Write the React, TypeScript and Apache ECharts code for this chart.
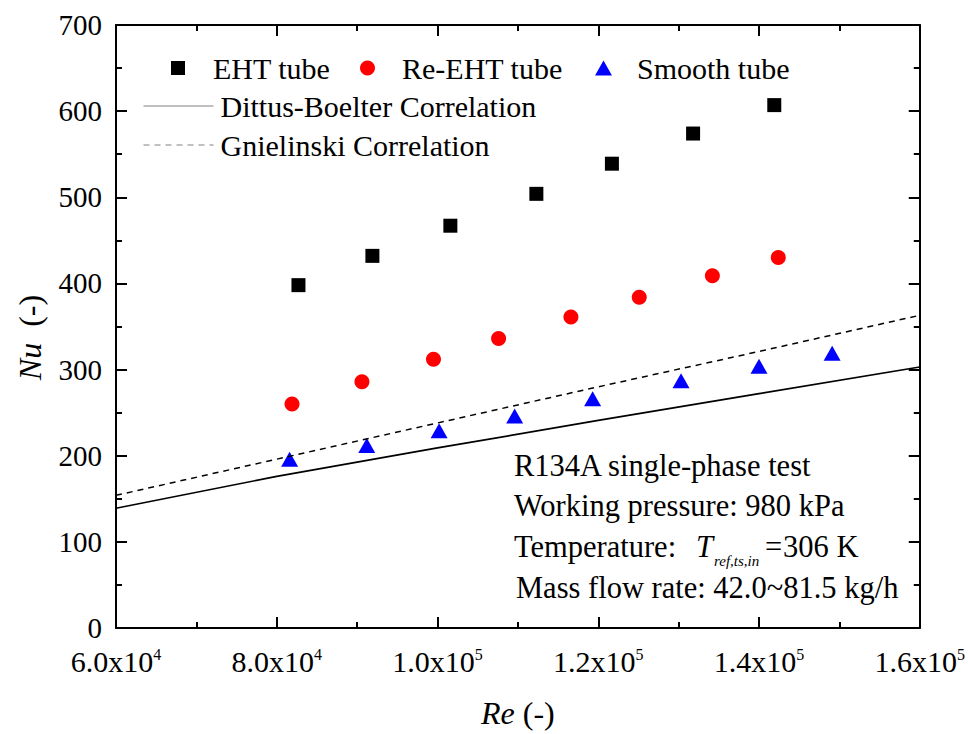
import React, { useEffect, useRef } from "react";
import * as echarts from "echarts";

// Measured Nusselt numbers against Reynolds number
const ehtRe = [82700, 91900, 101600, 112300, 121700, 131800, 141900];
const ehtNu = [398, 432, 467, 504, 539, 574, 607];

const reEhtRe = [81900, 90600, 99500, 107600, 116600, 125100, 134200, 142400];
const reEhtNu = [260, 286, 312, 336, 361, 384, 409, 430];

const smoothRe = [81600, 91200, 100200, 109600, 119300, 130300, 140000, 149100];
const smoothNu = [196, 212, 229, 246, 266, 287, 304, 319];

// Correlation curves
const corrRe = [60000, 80000, 100000, 120000, 140000, 160000];
const dittusNu = [139, 176, 209, 241, 272, 303];
const gnielinskiNu = [154, 196, 238, 280, 321, 363];

// Axis tick labels
const xTickValues = [60000, 80000, 100000, 120000, 140000, 160000];
const xTickMantissa = ["6.0", "8.0", "1.0", "1.2", "1.4", "1.6"];
const xTickExponent = ["4", "4", "5", "5", "5", "5"];

const FONT = "'Liberation Serif', 'Times New Roman', serif";

const zip = (xs: number[], ys: number[]) => xs.map((x, i) => [x, ys[i]]);

const tickLine = { color: "#000", width: 2 };

export default function App() {
  const ref = useRef<HTMLDivElement>(null);

  useEffect(() => {
    if (!ref.current) return;
    const chart = echarts.init(ref.current, undefined, { renderer: "svg" });

    const xCommon = {
      type: "value" as const,
      min: 60000,
      max: 160000,
      interval: 20000,
      axisLine: { show: true, onZero: false, lineStyle: { color: "#000", width: 2 } },
      axisTick: { show: true, inside: true, length: 11, lineStyle: tickLine },
      minorTick: { show: true, splitNumber: 2, length: 6, lineStyle: tickLine },
      splitLine: { show: false },
      minorSplitLine: { show: false },
    };
    const yCommon = {
      type: "value" as const,
      min: 0,
      max: 700,
      interval: 100,
      axisLine: { show: true, onZero: false, lineStyle: { color: "#000", width: 2 } },
      axisTick: { show: true, inside: true, length: 11, lineStyle: tickLine },
      minorTick: { show: true, splitNumber: 2, length: 6, lineStyle: tickLine },
      splitLine: { show: false },
      minorSplitLine: { show: false },
    };

    const legendText = (padLeft: number) => ({
      fontSize: 30,
      fontFamily: FONT,
      color: "#000",
      lineHeight: 30,
      padding: [0, 0, 0, padLeft],
    });

    const nameRich = {
      i: { fontSize: 32, fontFamily: FONT, fontStyle: "italic", color: "#000", lineHeight: 32 },
    };

    chart.setOption({
      animation: false,
      backgroundColor: "#fff",
      grid: { left: 116, right: 48, top: 25, bottom: 102, containLabel: false },
      xAxis: [
        {
          ...xCommon,
          position: "bottom",
          axisLabel: {
            margin: 18,
            formatter: (v: number) => {
              const i = xTickValues.indexOf(v);
              if (i < 0) return "";
              return `{b|${xTickMantissa[i]}x10}{s|${xTickExponent[i]}}`;
            },
            rich: {
              b: { fontSize: 30, fontFamily: FONT, color: "#000", lineHeight: 30, verticalAlign: "bottom" },
              s: { fontSize: 16, fontFamily: FONT, color: "#000", lineHeight: 30, verticalAlign: "top", padding: [0, 0, 14, 0] },
            },
          },
          name: "{i|Re} (-)",
          nameLocation: "middle",
          nameGap: 69,
          nameTextStyle: { fontSize: 32, fontFamily: FONT, color: "#000", lineHeight: 32, rich: nameRich },
        },
        {
          ...xCommon,
          position: "top",
          axisLabel: { show: false },
        },
      ],
      yAxis: [
        {
          ...yCommon,
          position: "left",
          axisLabel: { margin: 14, fontSize: 29, fontFamily: FONT, color: "#000" },
          name: "{i|Nu}  (-)",
          nameLocation: "middle",
          nameRotate: 90,
          nameGap: 70,
          nameTextStyle: {
            fontSize: 32,
            fontFamily: FONT,
            color: "#000",
            lineHeight: 32,
            padding: [0, 22, 0, 0],
            rich: nameRich,
          },
        },
        {
          ...yCommon,
          position: "right",
          axisLabel: { show: false },
        },
      ],
      legend: [
        {
          data: ["EHT tube"],
          left: 171,
          top: 53,
          padding: 0,
          itemWidth: 14,
          itemHeight: 14,
          textStyle: legendText(23),
        },
        {
          data: ["Re-EHT tube"],
          left: 360,
          top: 53,
          padding: 0,
          itemWidth: 15,
          itemHeight: 15,
          textStyle: legendText(22),
        },
        {
          data: ["Smooth tube"],
          left: 595,
          top: 53,
          padding: 0,
          itemWidth: 17,
          itemHeight: 15,
          textStyle: legendText(20),
        },
        {
          data: ["Dittus-Boelter Correlation", "Gnielinski Correlation"],
          orient: "vertical",
          left: 143,
          top: 91,
          padding: 0,
          itemGap: 9,
          itemWidth: 70,
          itemHeight: 14,
          itemStyle: { color: "rgba(0,0,0,0)", borderWidth: 0 },
          lineStyle: { color: "#808080", width: 1 },
          textStyle: legendText(2),
        },
      ],
      series: [
        {
          name: "Dittus-Boelter Correlation",
          type: "line",
          data: zip(corrRe, dittusNu),
          symbol: "none",
          lineStyle: { color: "#000", width: 1.7, type: "solid" },
          itemStyle: { color: "#000" },
        },
        {
          name: "Gnielinski Correlation",
          type: "line",
          data: zip(corrRe, gnielinskiNu),
          symbol: "none",
          lineStyle: { color: "#000", width: 1.5, type: [6, 5] },
          itemStyle: { color: "#000" },
        },
        {
          name: "EHT tube",
          type: "scatter",
          data: zip(ehtRe, ehtNu),
          symbol: "rect",
          symbolSize: 14,
          itemStyle: { color: "#000", opacity: 1 },
        },
        {
          name: "Re-EHT tube",
          type: "scatter",
          data: zip(reEhtRe, reEhtNu),
          symbol: "circle",
          symbolSize: 15,
          itemStyle: { color: "#ff0000", opacity: 1 },
        },
        {
          name: "Smooth tube",
          type: "scatter",
          data: zip(smoothRe, smoothNu),
          symbol: "triangle",
          symbolSize: [17, 15],
          itemStyle: { color: "#0000ff", opacity: 1 },
        },
      ],
      graphic: [
        {
          type: "text",
          x: 514,
          y: 466,
          style: { text: "R134A single-phase test", fontSize: 30.5, fontFamily: FONT, fill: "#000", verticalAlign: "middle" },
        },
        {
          type: "text",
          x: 514,
          y: 506,
          style: { text: "Working pressure: 980 kPa", fontSize: 30.5, fontFamily: FONT, fill: "#000", verticalAlign: "middle" },
        },
        {
          type: "text",
          x: 514,
          y: 547,
          style: { text: "Temperature:", fontSize: 30.5, fontFamily: FONT, fill: "#000", verticalAlign: "middle" },
        },
        {
          type: "text",
          x: 696,
          y: 547,
          style: { text: "T", fontSize: 30.5, fontFamily: FONT, fontStyle: "italic", fill: "#000", verticalAlign: "middle" },
        },
        {
          type: "text",
          x: 714,
          y: 561,
          style: { text: "ref,ts,in", fontSize: 15, fontFamily: FONT, fontStyle: "italic", fill: "#000", verticalAlign: "middle" },
        },
        {
          type: "text",
          x: 765,
          y: 547,
          style: { text: "=", fontSize: 30.5, fontFamily: FONT, fill: "#000", verticalAlign: "middle" },
        },
        {
          type: "text",
          x: 783,
          y: 547,
          style: { text: "306 K", fontSize: 30.5, fontFamily: FONT, fill: "#000", verticalAlign: "middle" },
        },
        {
          type: "text",
          x: 516,
          y: 588,
          style: { text: "Mass flow rate: 42.0~81.5 kg/h", fontSize: 30.5, fontFamily: FONT, fill: "#000", verticalAlign: "middle" },
        },
      ],
    });

    return () => chart.dispose();
  }, []);

  return (
    <div
      ref={ref}
      style={{ position: "absolute", left: 0, top: 0, width: 968, height: 734, background: "#fff" }}
    />
  );
}
